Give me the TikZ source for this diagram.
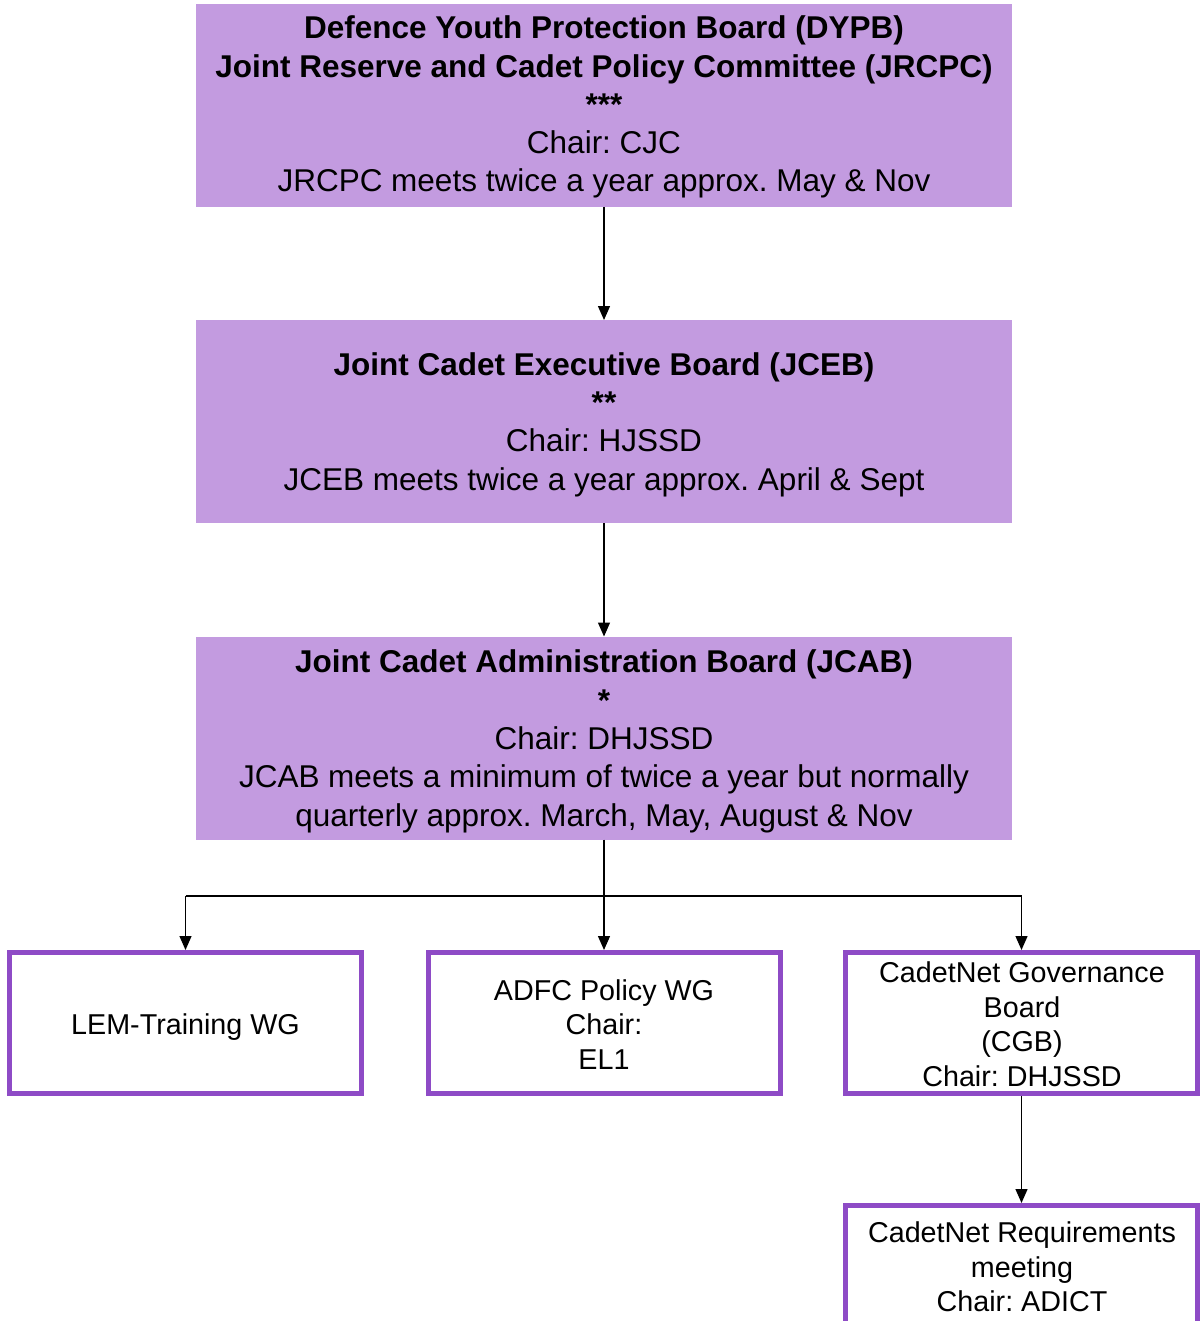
\documentclass[tikz,border=0pt]{standalone}
\usepackage{fontspec}
\setmainfont{Liberation Sans}
\usetikzlibrary{arrows.meta}
\definecolor{boardfill}{HTML}{C39BE0}
\definecolor{wgborder}{HTML}{8E4BC6}
\frenchspacing
\begin{document}
\begin{tikzpicture}[x=1pt,y=-1pt,
  board/.style={rectangle, fill=boardfill, draw=none, minimum width=816pt, minimum height=203pt, inner sep=0pt, outer sep=0pt},
  wg/.style={rectangle, draw=wgborder, line width=5pt, fill=white, minimum width=352pt, minimum height=141pt, inner sep=0pt},
  toptext/.style={anchor=base, align=center, font=\fontsize{31.5}{38.3}\selectfont, inner sep=0pt},
  wgtext/.style={anchor=base, align=center, font=\fontsize{28.7}{34.5}\selectfont, inner sep=0pt},
  conn/.style={line width=1.3pt, -{Triangle[length=14pt,width=12pt]}},
  link/.style={line width=1.3pt}
  ]
\useasboundingbox (0,0) rectangle (1200,1321);
\clip (0,0) rectangle (1200,1321);

% boards
\node[board] (jrcpc) at (604,105.5) {};
\node[board] (jceb) at (604,421.5) {};
\node[board] (jcab) at (604,738) {};

\node[toptext] (jrcpcT) at (604,192) {{\bfseries Defence Youth Protection Board (DYPB)}\\
{\bfseries Joint Reserve and Cadet Policy Committee (JRCPC)}\\
{\bfseries ***}\\
Chair: CJC\\
JRCPC meets twice a year approx. May \& Nov};

\node[toptext] (jcebT) at (604,490) {{\bfseries Joint Cadet Executive Board (JCEB)}\\
{\bfseries **}\\
Chair: HJSSD\\
JCEB meets twice a year approx. April \& Sept};

\node[toptext] (jcabT) at (604,826) {{\bfseries Joint Cadet Administration Board (JCAB)}\\
{\bfseries *}\\
Chair: DHJSSD\\
JCAB meets a minimum of twice a year but normally\\
quarterly approx. March, May, August \& Nov};

% working groups
\node[wg] (lem) at (185.5,1023) {};
\node[wg] (adfc) at (604,1023) {};
\node[wg] (cgb) at (1021.5,1023) {};
\node[wg] (req) at (1021.5,1276) {};

\node[wgtext] (lemT) at (185.5,1034) {LEM-Training WG};
\node[wgtext] (adfcT) at (604,1069) {ADFC Policy WG\\Chair:\\EL1};
\node[wgtext] (cgbT) at (1022,1086) {CadetNet Governance\\Board\\(CGB)\\Chair: DHJSSD};
\node[wgtext] (reqT) at (1022,1311.5) {CadetNet Requirements\\meeting\\Chair: ADICT};

% connectors
\coordinate (splitL) at (185.5,896);
\coordinate (splitR) at (1021.5,896);
\draw[conn] (jrcpc.south) -- (jceb.north);
\draw[conn] (jceb.south) -- (jcab.north);
\draw[conn] (jcab.south) -- (adfc.north);
\draw[link] (splitL) -- (splitR);
\draw[conn] (splitL) -- (lem.north);
\draw[conn] (splitR) -- (cgb.north);
\draw[conn] (cgb.south) -- (req.north);
\end{tikzpicture}
\end{document}
